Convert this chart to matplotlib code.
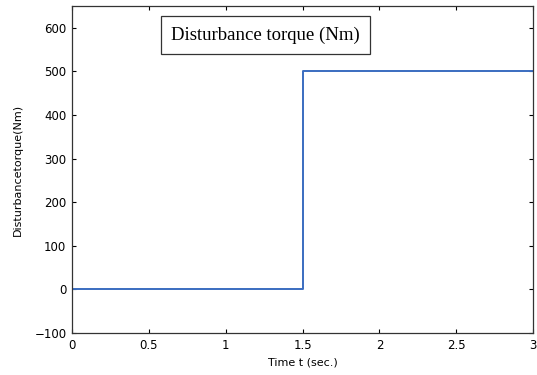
import matplotlib
matplotlib.use("Agg")
import matplotlib.pyplot as plt

t = [0, 1.5, 1.5, 1.503, 1.503, 3.0]
torque = [0, 0, 365, 365, 500, 500]
xticks = [0, 0.5, 1, 1.5, 2, 2.5, 3]
xticklabels = ["0", "0.5", "1", "1.5", "2", "2.5", "3"]
yticks = [-100, 0, 100, 200, 300, 400, 500, 600]

fig = plt.figure(figsize=(5.37, 3.75), dpi=100)
ax = fig.add_axes([0.134, 0.112, 0.859, 0.872])
ax.plot(t, torque, color="#3a6cc0", lw=1.4)
ax.set_xlim(0, 3)
ax.set_ylim(-100, 650)
ax.set_xticks(xticks)
ax.set_xticklabels(xticklabels)
ax.set_yticks(yticks)
ax.tick_params(direction="in", top=True, right=True, labelsize=8.5, length=3, width=0.8, pad=4)
for s in ax.spines.values():
    s.set_linewidth(0.9)
    s.set_color("#333333")
ax.set_xlabel("Time t (sec.)", fontsize=8, labelpad=4)
ax.set_ylabel("Disturbancetorque(Nm)", fontsize=8, labelpad=8)
ax.text(0.42, 0.911, "Disturbance torque (Nm)", transform=ax.transAxes,
        ha="center", va="center", fontsize=13.5, family="Liberation Serif",
        bbox=dict(boxstyle="square,pad=0.55", fc="white", ec="#333333", lw=0.9))
fig.savefig("out.png", dpi=100)
